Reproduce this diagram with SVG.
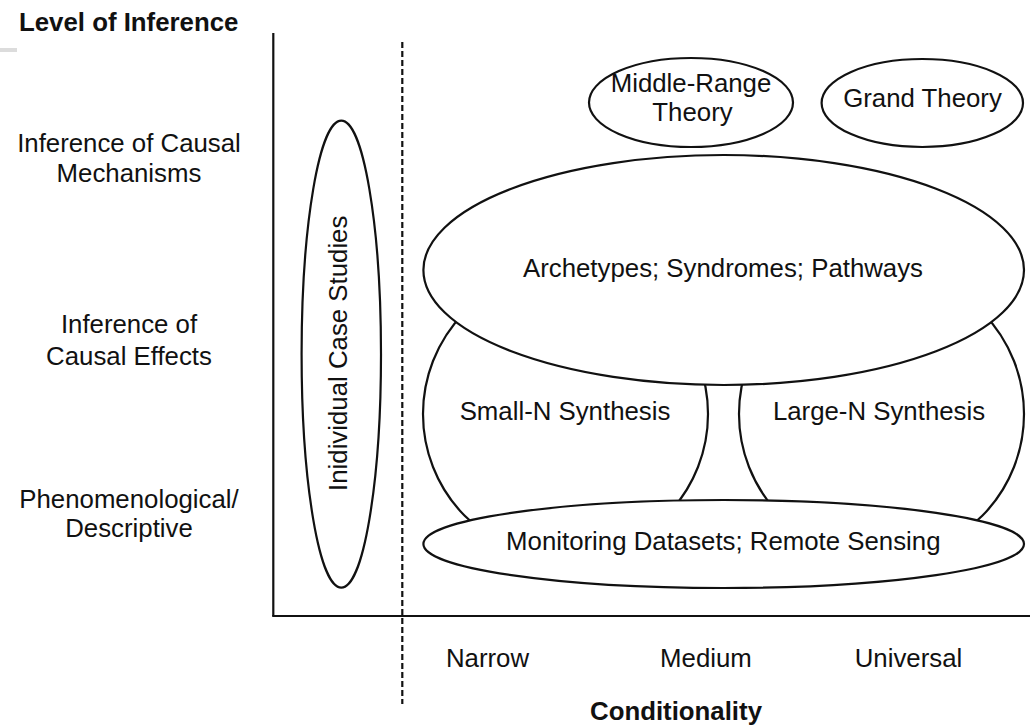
<svg xmlns="http://www.w3.org/2000/svg" width="1030" height="727" viewBox="0 0 1030 727">
<style>
text{font-family:"Liberation Sans",Arial,sans-serif;font-size:25.8px;fill:#111;text-anchor:middle}
.b{font-weight:bold}
.e{fill:#fff;stroke:#111;stroke-width:2.2}
.ax{stroke:#111;stroke-width:2.2;fill:none}
.dash{stroke:#111;stroke-width:2.2;stroke-dasharray:6 3;fill:none}
</style>
<rect width="1030" height="727" fill="#fff"/>
<rect x="0" y="48" width="17" height="4" fill="#dcdcdc"/>
<g id="axes">
<line class="ax" x1="273.3" y1="33" x2="273.3" y2="616"/>
<line class="ax" x1="272.2" y1="616" x2="1030" y2="616"/>
<line class="dash" x1="402.3" y1="42" x2="402.3" y2="704"/>
</g>
<g id="axis-labels">
<text class="b" x="19" y="31" style="text-anchor:start">Level of Inference</text>
<text x="129" y="151.5">Inference of Causal</text>
<text x="129" y="181.5">Mechanisms</text>
<text x="129" y="333.3">Inference of</text>
<text x="129" y="365">Causal Effects</text>
<text x="129" y="507.5">Phenomenological/</text>
<text x="129" y="537.3">Descriptive</text>
<text x="487.5" y="667">Narrow</text>
<text x="706" y="667">Medium</text>
<text x="908.5" y="667">Universal</text>
<text class="b" x="676" y="719.5">Conditionality</text>
</g>
<g id="case-studies">
<ellipse class="e" cx="341.3" cy="354.2" rx="39.7" ry="233.5"/>
<text transform="translate(346.5,353.3) rotate(-90)">Inidividual Case Studies</text>
</g>
<g id="small-n">
<ellipse class="e" cx="565.5" cy="414" rx="142.5" ry="144"/>
<text x="565" y="420">Small-N Synthesis</text>
</g>
<g id="large-n">
<ellipse class="e" cx="881.5" cy="414" rx="142.5" ry="144"/>
<text x="879" y="420">Large-N Synthesis</text>
</g>
<g id="archetypes">
<ellipse class="e" cx="723.7" cy="270" rx="300.3" ry="115"/>
<text x="723" y="277">Archetypes; Syndromes; Pathways</text>
</g>
<g id="monitoring">
<ellipse class="e" cx="723.7" cy="544" rx="300.3" ry="44"/>
<text x="723.3" y="550">Monitoring Datasets; Remote Sensing</text>
</g>
<g id="middle-range">
<ellipse class="e" cx="691" cy="102.5" rx="102" ry="44.5"/>
<text x="691" y="92">Middle-Range</text>
<text x="692.5" y="121">Theory</text>
</g>
<g id="grand-theory">
<ellipse class="e" cx="922.3" cy="103" rx="100.7" ry="44"/>
<text x="922.5" y="107">Grand Theory</text>
</g>
</svg>
